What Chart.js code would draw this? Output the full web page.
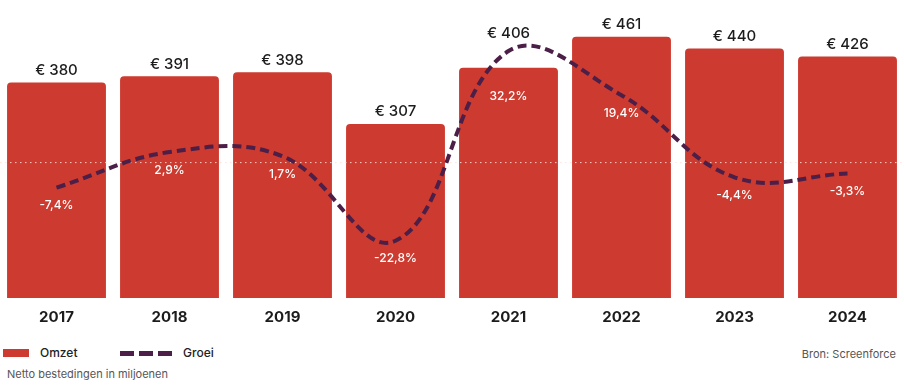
<!DOCTYPE html>
<html>
<head>
<meta charset="utf-8">
<script src="https://cdn.jsdelivr.net/npm/chart.js@4"></script>
<style>
  html, body { margin: 0; padding: 0; background: #fff; }
  body { width: 904px; height: 392px; position: relative; overflow: hidden; font-family: Inter, "Open Sans", sans-serif; }
  #wrap { position: absolute; left: 0; top: 0; width: 904px; height: 330px; }
  .leg { position: absolute; top: 345px; font-size: 12px; color: #222; font-weight: 500; line-height: 16px; }
  .box { position: absolute; top: 349px; left: 3px; width: 26px; height: 8px; background: #cd3a2f; }
  .dash { position: absolute; top: 351px; height: 5px; width: 14px; background: #4b1f48; }
  .note { position: absolute; font-size: 11px; color: #555; line-height: 14px; }
</style>
</head>
<body>
<div id="wrap"><canvas id="chart"></canvas></div>

<div class="box"></div>
<div class="leg" style="left:40px">Omzet</div>
<div class="dash" style="left:120px"></div>
<div class="dash" style="left:139px"></div>
<div class="dash" style="left:158px"></div>
<div class="leg" style="left:183px">Groei</div>
<div class="note" style="right:8px; top:347px">Bron: Screenforce</div>
<div class="note" style="left:7px; top:367px">Netto bestedingen in miljoenen</div>

<script>
'use strict';

const YEARS  = ['2017', '2018', '2019', '2020', '2021', '2022', '2023', '2024'];
const OMZET  = [380, 391, 398, 307, 406, 461, 440, 426];
const GROEI  = [-7.4, 2.9, 1.7, -22.8, 32.2, 19.4, -4.4, -3.3];

const RED    = '#cd3a2f';
const PURPLE = '#4b1f48';

const fmtEuro = v => '€ ' + v;
const fmtPct  = v => String(v).replace('.', ',') + '%';

// sharp peak of the line -> growth label has to sit further down, clear of the curve
function isSharpPeak(i) {
  const prev = GROEI[i - 1], next = GROEI[i + 1];
  if (prev === undefined || next === undefined) return false;
  return Math.min(GROEI[i] - prev, GROEI[i] - next) > 10;
}

// dotted zero line of the growth axis, drawn over the bars but under the line
const zeroLine = {
  id: 'zeroLine',
  afterDatasetDraw(chart, args) {
    if (args.index !== 0) return;
    const { ctx, chartArea } = chart;
    const y = chart.scales.yGroei.getPixelForValue(0);
    ctx.save();
    ctx.strokeStyle = 'rgba(255,225,215,0.9)';
    ctx.lineWidth = 1;
    ctx.setLineDash([1.5, 3.5]);
    ctx.beginPath();
    ctx.moveTo(chartArea.left, y + 0.5);
    ctx.lineTo(chartArea.right, y + 0.5);
    ctx.stroke();
    ctx.restore();
  }
};

// value labels above bars and growth labels under the line
const valueLabels = {
  id: 'valueLabels',
  afterDatasetsDraw(chart) {
    const { ctx } = chart;
    const pts = chart.getDatasetMeta(1).data;
    ctx.save();
    ctx.textAlign = 'center';
    ctx.textBaseline = 'middle';

    ctx.fillStyle = '#1c1c1c';
    ctx.font = '500 15px Inter, sans-serif';
    chart.getDatasetMeta(0).data.forEach((bar, i) => {
      const top = Math.min(bar.y, pts[i].y - 6);
      ctx.fillText(fmtEuro(OMZET[i]), bar.x, top - 12);
    });

    ctx.fillStyle = '#ffffff';
    ctx.font = '500 12px Inter, sans-serif';
    pts.forEach((pt, i) => {
      ctx.fillText(fmtPct(GROEI[i]), pt.x, pt.y + (isSharpPeak(i) ? 45 : 18));
    });
    ctx.restore();
  }
};

new Chart(document.getElementById('chart'), {
  data: {
    labels: YEARS,
    datasets: [
      {
        type: 'bar', label: 'Omzet', data: OMZET, yAxisID: 'yOmzet', order: 2,
        backgroundColor: RED, borderWidth: 0,
        borderRadius: { topLeft: 4, topRight: 4 }, borderSkipped: 'bottom',
        barPercentage: 0.875, categoryPercentage: 1
      },
      {
        type: 'line', label: 'Groei', data: GROEI, yAxisID: 'yGroei', order: 1,
        borderColor: PURPLE, borderWidth: 4, borderDash: [9, 5], borderCapStyle: 'butt',
        tension: 0.4, pointRadius: 0, fill: false
      }
    ]
  },
  options: {
    responsive: true, maintainAspectRatio: false, animation: false,
    layout: { padding: 0 },
    scales: {
      x: {
        grid: { display: false, drawTicks: false }, border: { display: false },
        ticks: { color: '#1c1c1c', font: { family: 'Inter', size: 15, weight: '700' }, padding: 10 },
        afterFit: s => { s.height = 32; }
      },
      yOmzet: { display: false, min: 0, max: 525.6 },
      yGroei: { display: false, min: -39.4, max: 47 }
    },
    plugins: { legend: { display: false }, tooltip: { enabled: false } }
  },
  plugins: [zeroLine, valueLabels]
});
</script>
</body>
</html>
